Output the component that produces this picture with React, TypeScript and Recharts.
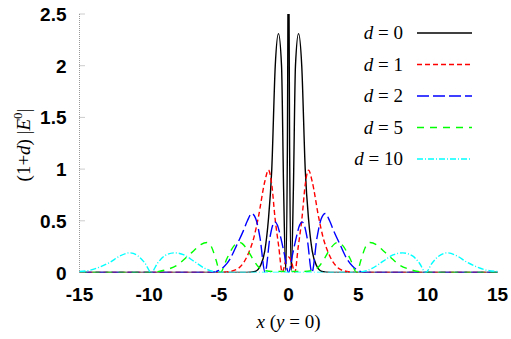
import { LineChart, Line, XAxis, YAxis } from 'recharts'

// d = 0
const d0X = [-15, -3, -2.4, -2.0, -1.7, -1.45, -1.2, -0.95, -0.72, -0.5, -0.35, -0.2, -0.08, 0, 0.08, 0.2, 0.35, 0.5, 0.72, 0.95, 1.2, 1.45, 1.7, 2.0, 2.4, 3, 15]
const d0Y = [0, 0, 0.01, 0.07, 0.21, 0.5, 1.0, 2.0, 2.31, 2.0, 0.8, 0.02, 1.2, 3.5, 1.2, 0.02, 0.8, 2.0, 2.31, 2.0, 1.0, 0.5, 0.21, 0.07, 0.01, 0, 0]

// d = 1
const d1X = [-15, -5, -4.2, -3.6, -3.2, -2.8, -2.5, -2.17, -1.7, -1.44, -1.2, -0.97, -0.7, -0.45, -0.2, 0, 0.2, 0.45, 0.7, 0.97, 1.2, 1.44, 1.7, 2.17, 2.5, 2.8, 3.2, 3.6, 4.2, 5, 15]
const d1Y = [0, 0, 0.01, 0.04, 0.1, 0.21, 0.33, 0.53, 0.88, 0.99, 0.85, 0.53, 0.25, 0, 0.11, 0.15, 0.11, 0, 0.25, 0.53, 0.85, 0.99, 0.88, 0.53, 0.33, 0.21, 0.1, 0.04, 0.01, 0, 0]

// d = 2
const d2X = [-15, -5.5, -5.0, -4.6, -4.2, -3.7, -3.25, -2.95, -2.64, -2.35, -2.05, -1.68, -1.33, -1.15, -0.97, -0.8, -0.56, -0.3, 0, 0.3, 0.56, 0.8, 0.97, 1.15, 1.33, 1.68, 2.05, 2.35, 2.64, 2.95, 3.25, 3.7, 4.2, 4.6, 5.0, 5.5, 15]
const d2Y = [0, 0, 0.02, 0.06, 0.13, 0.27, 0.4, 0.5, 0.57, 0.52, 0.34, 0, 0.34, 0.45, 0.49, 0.46, 0.34, 0.18, 0, 0.18, 0.34, 0.46, 0.49, 0.45, 0.34, 0, 0.34, 0.52, 0.57, 0.5, 0.4, 0.27, 0.13, 0.06, 0.02, 0, 0]

// d = 5
const d5X = [-15, -10, -9.3, -8.7, -8, -7.3, -6.8, -6.3, -5.85, -5.5, -5.2, -4.9, -4.4, -3.9, -3.5, -3.0, -2.6, -2.2, -1.8, -1, 0, 1, 1.8, 2.2, 2.6, 3.0, 3.5, 3.9, 4.4, 4.9, 5.2, 5.5, 5.85, 6.3, 6.8, 7.3, 8, 8.7, 9.3, 10, 15]
const d5Y = [0, 0, 0.01, 0.03, 0.07, 0.15, 0.21, 0.27, 0.29, 0.24, 0.12, 0, 0.14, 0.26, 0.29, 0.23, 0.14, 0.06, 0.02, 0.01, 0.01, 0.01, 0.02, 0.06, 0.14, 0.23, 0.29, 0.26, 0.14, 0, 0.12, 0.24, 0.29, 0.27, 0.21, 0.15, 0.07, 0.03, 0.01, 0, 0]

// d = 10
const d10X = [-15, -14.3, -13.6, -12.8, -12.1, -11.4, -10.8, -10.3, -9.85, -9.4, -8.9, -8.2, -7.5, -6.8, -6, -5.2, -4.5, 0, 4.5, 5.2, 6, 6.8, 7.5, 8.2, 8.9, 9.4, 9.85, 10.3, 10.8, 11.4, 12.1, 12.8, 13.6, 14.3, 15]
const d10Y = [0.01, 0.02, 0.05, 0.1, 0.16, 0.19, 0.16, 0.09, 0, 0.09, 0.16, 0.19, 0.17, 0.11, 0.04, 0.005, 0, 0, 0, 0.005, 0.04, 0.11, 0.17, 0.19, 0.16, 0.09, 0, 0.09, 0.16, 0.19, 0.16, 0.1, 0.05, 0.02, 0.01]

const seriesNames = ['d = 0', 'd = 1', 'd = 2', 'd = 5', 'd = 10']
const seriesX = [d0X, d1X, d2X, d5X, d10X]
const seriesY = [d0Y, d1Y, d2Y, d5Y, d10Y]
const seriesColors = ['#000000', '#ff0000', '#0000ff', '#00ff00', '#00ffff']
const seriesDash = ['', '5 3', '12 4', '7 6', '6 2 1 2']

const xTicks = [-15, -10, -5, 0, 5, 10, 15]
const yTicks = [0, 0.5, 1, 1.5, 2, 2.5]

const W = 511
const H = 339

const tickFont = { fontFamily: '"Liberation Sans", Arial, sans-serif', fontWeight: 700, fontSize: 19 }
const serifFont = { fontFamily: '"Liberation Serif", "Times New Roman", serif', fontSize: 19 }

function XTick({ x, y, payload }: any) {
  return (
    <text x={x} y={y + 28} textAnchor="middle" fill="#000" style={tickFont}>
      {payload.value}
    </text>
  )
}

function YTick({ x, y, payload }: any) {
  return (
    <g>
      <line x1={x} x2={x + 5} y1={y} y2={y} stroke="#999" strokeDasharray="1 1" />
      <text x={x - 13} y={y + 7} textAnchor="end" fill="#000" style={tickFont}>
        {payload.value}
      </text>
    </g>
  )
}

export default function App() {
  const datasets = seriesX.map((xs, i) => xs.map((x, j) => ({ x, y: seriesY[i][j] })))

  return (
    <div style={{ position: 'absolute', left: 0, top: 0, width: W, height: H, background: '#fff' }}>
      <LineChart width={W} height={H} margin={{ top: 14, right: 13.5, bottom: 26.5, left: 19.5 }}>
        <XAxis
          type="number"
          dataKey="x"
          domain={[-15, 15]}
          ticks={xTicks}
          height={40}
          tickSize={0}
          tickMargin={0}
          axisLine={false}
          tickLine={false}
          tick={XTick}
          interval={0}
        />
        <YAxis
          type="number"
          domain={[0, 2.5]}
          ticks={yTicks}
          allowDataOverflow
          width={60}
          tickSize={0}
          tickMargin={0}
          axisLine={{ stroke: '#999', strokeDasharray: '1 1' }}
          tickLine={false}
          tick={YTick}
          interval={0}
        />
        {datasets.map((data, i) => (
          <Line
            key={seriesNames[i]}
            data={data}
            dataKey="y"
            type="monotone"
            stroke={seriesColors[i]}
            strokeWidth={1.4}
            strokeDasharray={seriesDash[i] || undefined}
            dot={false}
            activeDot={false}
            isAnimationActive={false}
          />
        ))}
      </LineChart>

      <svg width={W} height={H} style={{ position: 'absolute', left: 0, top: 0, pointerEvents: 'none' }}>
        {/* legend */}
        {seriesNames.map((name, i) => {
          const cy = 33 + i * 31.5
          const num = name.split('= ')[1]
          return (
            <g key={name}>
              <text x={403} y={cy + 6} textAnchor="end" fill="#000" style={serifFont}>
                <tspan fontStyle="italic">d</tspan> = {num}
              </text>
              <line x1={417} x2={472} y1={cy} y2={cy} stroke={seriesColors[i]} strokeWidth={1.4} strokeDasharray={seriesDash[i] || undefined} />
            </g>
          )
        })}

        {/* axis titles */}
        <text x={288.5} y={328} textAnchor="middle" fill="#000" style={serifFont}>
          <tspan fontStyle="italic">x</tspan> (<tspan fontStyle="italic">y</tspan> = 0)
        </text>
        <text x={0} y={0} transform="translate(30,145) rotate(-90)" textAnchor="middle" fill="#000" style={serifFont}>
          (1+<tspan fontStyle="italic">d</tspan>) |<tspan fontStyle="italic">E</tspan>
          <tspan fontSize={13} dy={-8}>0</tspan>
          <tspan dy={8}>|</tspan>
        </text>
      </svg>
    </div>
  )
}
